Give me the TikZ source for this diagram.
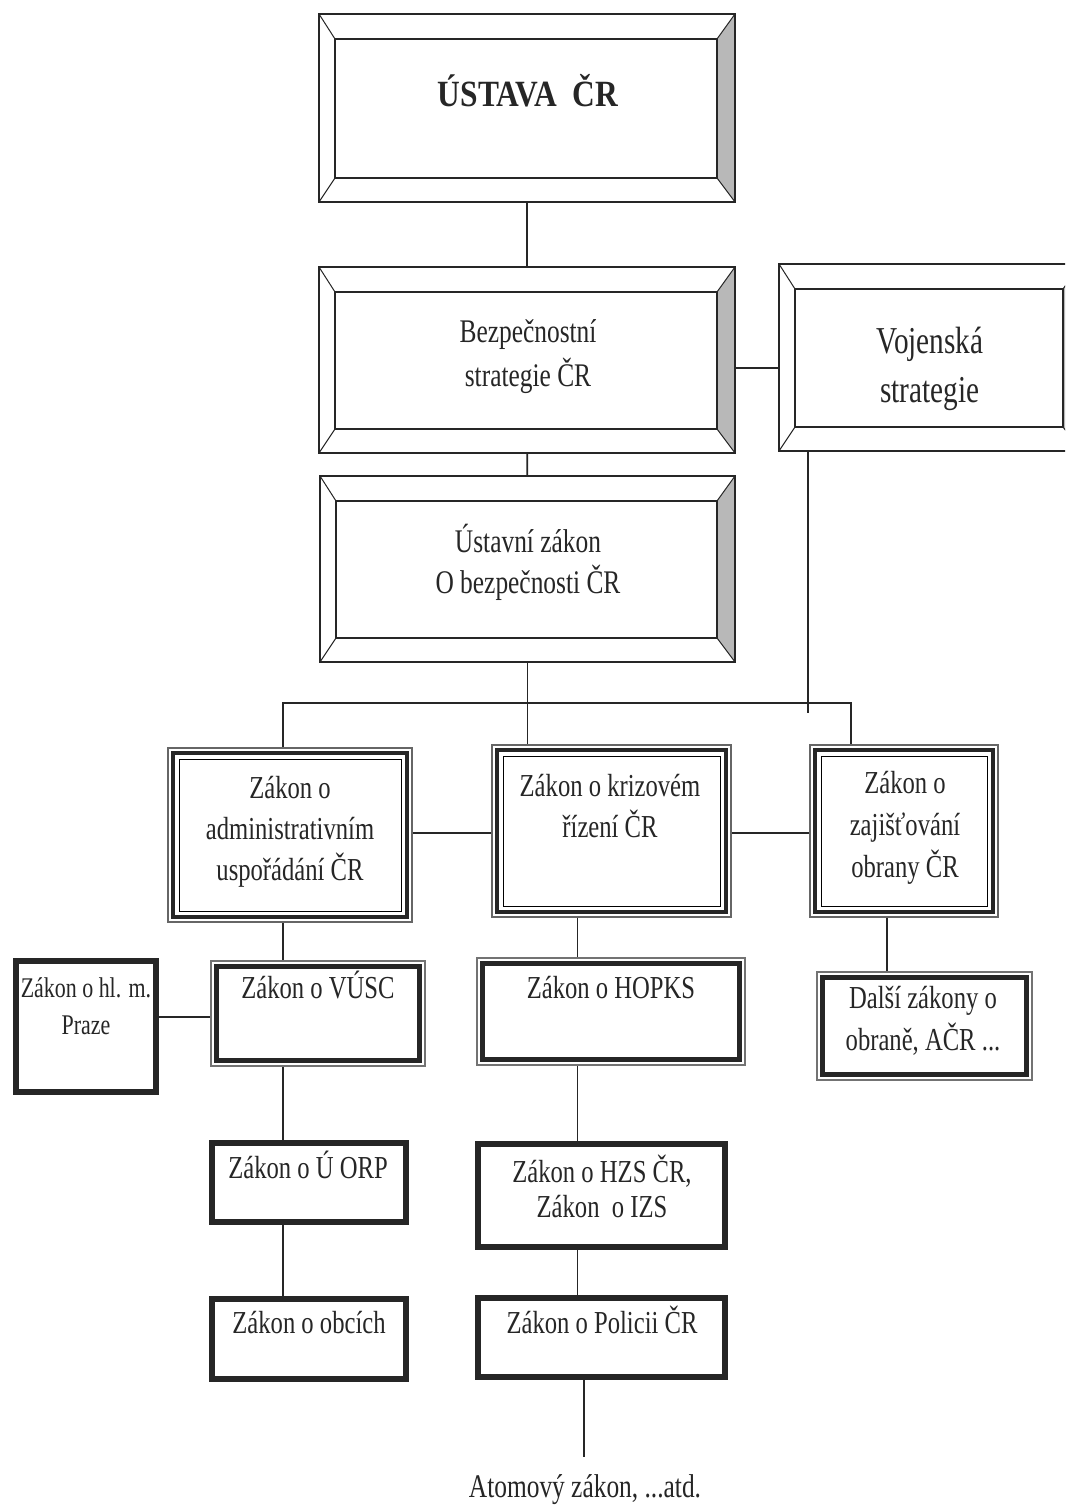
\documentclass[tikz,border=0pt]{standalone}
\usepackage{fontspec}
\setmainfont{Liberation Serif}[FakeStretch=0.77]
\newfontfamily\titlefont{Liberation Serif}[FakeStretch=0.85]
\usetikzlibrary{backgrounds}
\pgfdeclarelayer{paper}
\pgfsetlayers{paper,background,main}
\begin{document}
\begin{tikzpicture}[x=1pt,y=-1pt,
  conn/.style={line width=1.8pt,black!85},
  sz/.style 2 args={minimum width=#1pt,minimum height=#2pt},
  boxbase/.style={rectangle,inner sep=0pt,outer sep=0pt,fill=white},
  bevelbox/.style={boxbase,draw=black!85,line width=1.6pt,
    path picture={
      \coordinate (pa) at (path picture bounding box.north west);
      \coordinate (pb) at (path picture bounding box.south east);
      \coordinate (po) at (pa -| pb);
      \coordinate (pq) at (pa |- pb);
      \coordinate (ia) at ([shift={(16,25)}]pa);
      \coordinate (ib) at ([shift={(-18,-24)}]pb);
      \coordinate (ic) at ([shift={(-18,25)}]po);
      \coordinate (id) at ([shift={(16,-24)}]pq);
      \fill[black!28] (po) -- (pb) -- (ib) -- (ic) -- cycle;
      \draw[line width=1pt,black!85] (pa) -- (ia) (po) -- (ic) (pb) -- (ib) (pq) -- (id);
      \draw[line width=1.6pt,black!85] (ia) rectangle (ib);
    }},
  tripbox/.style={boxbase,draw=black!60,line width=1.5pt,
    path picture={
      \coordinate (pa) at (path picture bounding box.north west);
      \coordinate (pb) at (path picture bounding box.south east);
      \draw[black!85,line width=4pt] ([shift={(5,5)}]pa) rectangle ([shift={(-5,-5)}]pb);
      \draw[black,line width=1pt] ([shift={(11,11)}]pa) rectangle ([shift={(-11,-11)}]pb);
    }},
  dblbox/.style={boxbase,draw=black!55,line width=1.5pt,
    path picture={
      \coordinate (pa) at (path picture bounding box.north west);
      \coordinate (pb) at (path picture bounding box.south east);
      \draw[black!85,line width=4.5pt] ([shift={(5.5,5.5)}]pa) rectangle ([shift={(-5.5,-5.5)}]pb);
    }},
  heavybox/.style={boxbase,draw=black!85,line width=6pt},
  txt/.style={font=\fontsize{32}{41}\selectfont,align=center,inner sep=0pt,anchor=base,text=black!85},
]
\path[use as bounding box] (0,0) rectangle (1065,1506);
\clip (0,0) rectangle (1065,1506);
\begin{pgfonlayer}{paper}
\fill[white] (0,0) rectangle (1065,1506);
\end{pgfonlayer}

% boxes
\node[bevelbox,sz={416}{188}] (ustava) at (527,108) {};
\node[bevelbox,sz={416}{186}] (bezp) at (527,360) {};
\node[bevelbox,sz={415}{186}] (ustavni) at (527.5,569) {};
\node[bevelbox,sz={302}{187}] (voj) at (930,357.5) {};

\node[tripbox,sz={244}{174}] (admin) at (290,835) {};
\node[tripbox,sz={239}{172}] (krize) at (611.5,831) {};
\node[tripbox,sz={188}{172}] (obrana) at (904,831) {};

\node[heavybox,sz={140}{131}] (praha) at (86,1026.5) {};
\node[dblbox,sz={214}{105}] (vusc) at (318,1013.5) {};
\node[dblbox,sz={268}{107}] (hopks) at (611,1011.5) {};
\node[dblbox,sz={215}{108}] (dalsi) at (924.5,1026) {};

\node[heavybox,sz={194}{79}] (orp) at (309,1182.5) {};
\node[heavybox,sz={194}{80}] (obce) at (309,1339) {};
\node[heavybox,sz={247}{103}] (hzs) at (601.5,1195.5) {};
\node[heavybox,sz={247}{79}] (policie) at (601.5,1337.5) {};

% texts (anchor base = baseline of the last line)
\node[txt,font=\titlefont\fontsize{37}{44}\selectfont\bfseries] (ustava-t) at (528,107) {ÚSTAVA\ \ ČR};
\node[txt,font=\fontsize{33}{44}\selectfont] (bezp-t) at (528,386) {Bezpečnostní\\strategie ČR};
\node[txt,font=\fontsize{33}{41}\selectfont] (ustavni-t) at (528,593) {Ústavní zákon\\O bezpečnosti ČR};
\node[txt,font=\fontsize{38}{49}\selectfont] (voj-t) at (930,402) {Vojenská\\strategie};
\node[txt] (admin-t) at (290,880) {Zákon o\\administrativním\\uspořádání ČR};
\node[txt] (krize-t) at (610,837) {Zákon o krizovém\\řízení ČR};
\node[txt,font=\fontsize{32}{42}\selectfont] (obrana-t) at (905,877) {Zákon o\\zajišťování\\obrany ČR};
\node[txt,font=\fontsize{28.5}{37}\selectfont] (praha-t) at (86,1034) {Zákon o hl. m.\\Praze};
\node[txt] (vusc-t) at (318,998) {Zákon o VÚSC};
\node[txt] (hopks-t) at (611,998) {Zákon o HOPKS};
\node[txt,font=\fontsize{32}{42}\selectfont] (dalsi-t) at (923,1050) {Další zákony o\\obraně, AČR ...};
\node[txt] (orp-t) at (308,1178) {Zákon o Ú ORP};
\node[txt] (obce-t) at (309,1333) {Zákon o obcích};
\node[txt,font=\fontsize{32}{35}\selectfont] (hzs-t) at (602,1217) {Zákon o HZS ČR,\\Zákon\ \ o IZS};
\node[txt] (policie-t) at (602,1333) {Zákon o Policii ČR};
\node[txt,font=\fontsize{33}{41}\selectfont] (atom) at (585,1497) {Atomový zákon, ...atd.};

% helper coordinates
\coordinate (bl) at (283,703);
\coordinate (br) at (851,703);
\coordinate (vx) at (808,713);
\coordinate (sy) at (0,368);
\coordinate (hy) at (0,833);
\coordinate (py) at (0,1017);
\coordinate (mx) at (577.5,0);
\coordinate (ax) at (584,1457);
\coordinate (rx) at (887,0);

\begin{scope}[on background layer]
\draw[conn] (ustava) -- (bezp);
\draw[conn] (bezp) -- (ustavni);
\draw[conn] (bezp.east |- sy) -- (voj.west |- sy);
\draw[conn] (ustavni.south) -- (ustavni.south |- krize.north);
\draw[conn] (admin.north -| bl) -- (bl) -- (br) -- (obrana.north -| br);
\draw[conn] (voj.south -| vx) -- (vx);
\draw[conn] (admin.east |- hy) -- (krize.west |- hy);
\draw[conn] (krize.east |- hy) -- (obrana.west |- hy);
\draw[conn] (admin.south -| bl) -- (vusc.north -| bl);
\draw[conn] (vusc.south -| bl) -- (orp.north -| bl);
\draw[conn] (orp.south -| bl) -- (obce.north -| bl);
\draw[conn] (praha.east |- py) -- (vusc.west |- py);
\draw[conn] (krize.south -| mx) -- (hopks.north -| mx);
\draw[conn] (hopks.south -| mx) -- (hzs.north -| mx);
\draw[conn] (hzs.south -| mx) -- (policie.north -| mx);
\draw[conn] (policie.south -| ax) -- (ax);
\draw[conn] (obrana.south -| rx) -- (dalsi.north -| rx);
\end{scope}
\end{tikzpicture}
\end{document}
